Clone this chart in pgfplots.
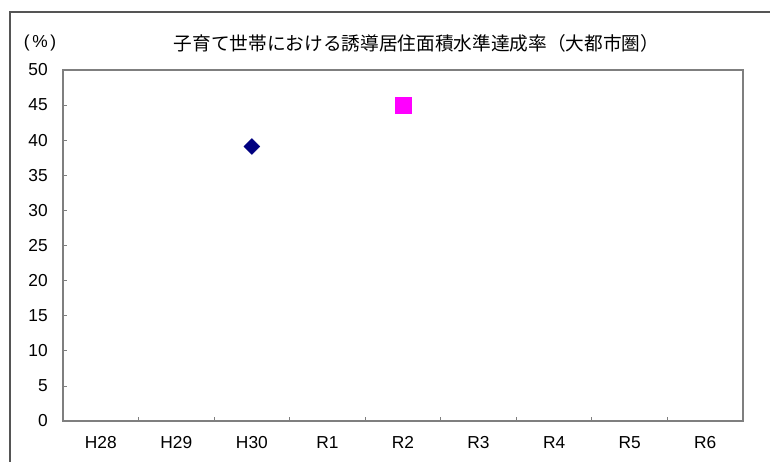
\documentclass[border=0pt]{standalone}
\usepackage{pgfplots}
\pgfplotsset{compat=1.18}
\usepackage{fontspec}
\setmainfont{Liberation Sans}
\newfontfamily\cjk{Noto Sans CJK JP}

\definecolor{framegray}{HTML}{555555}
\definecolor{axisgray}{HTML}{7F7F7F}
\definecolor{navymark}{HTML}{000080}
\definecolor{pinkmark}{HTML}{FF00FF}

\begin{document}
\begin{tikzpicture}[x=0.75pt,y=0.75pt]
\useasboundingbox (0,0) rectangle (770,461);
% outer chart frame
\draw[framegray, line width=0.8pt] (10,-10) -- (10,449) -- (780,449);
% titles
\node[inner sep=0pt] at (416.5,418) {\cjk\fontsize{14pt}{16pt}\selectfont 子育て世帯における誘導居住面積水準達成率（大都市圏）};
\node[inner sep=0pt] at (40,418) {\fontsize{13pt}{15pt}\selectfont (\kern2pt\%\kern2pt)};

\begin{axis}[
  at={(47.25pt,30pt)}, anchor=south west,
  scale only axis, width=510pt, height=263.25pt,
  xmin=0, xmax=9, ymin=0, ymax=50,
  clip=false,
  axis line style={axisgray, line width=0.8pt},
  tick style={axisgray, line width=0.6pt},
  tick align=inside,
  major tick length=3pt,
  xtick pos=bottom, ytick pos=left,
  xtick={1,...,8}, xticklabels=\empty,
  extra x ticks={0.5,1.5,...,8.5},
  extra x tick labels={H28,H29,H30,R1,R2,R3,R4,R5,R6},
  extra x tick style={major tick length=0pt},
  ytick={0,5,...,50},
  /pgf/number format/assume math mode=true,
  tick label style={font=\fontsize{13pt}{15pt}\selectfont, inner sep=0pt},
  xticklabel style={anchor=north, yshift=-11.5pt},
  yticklabel style={anchor=east, xshift=-11.25pt},
]
\addplot[only marks, mark=square*, mark size=4.2pt,
  mark options={rotate=45, fill=navymark, draw=navymark, line width=0.3pt}]
  coordinates {(2.5,39.1)};
\addplot[only marks, mark=square*, mark size=6.2pt,
  mark options={fill=pinkmark, draw=pinkmark, line width=0.3pt}]
  coordinates {(4.5,45)};
\end{axis}
\end{tikzpicture}
\end{document}
